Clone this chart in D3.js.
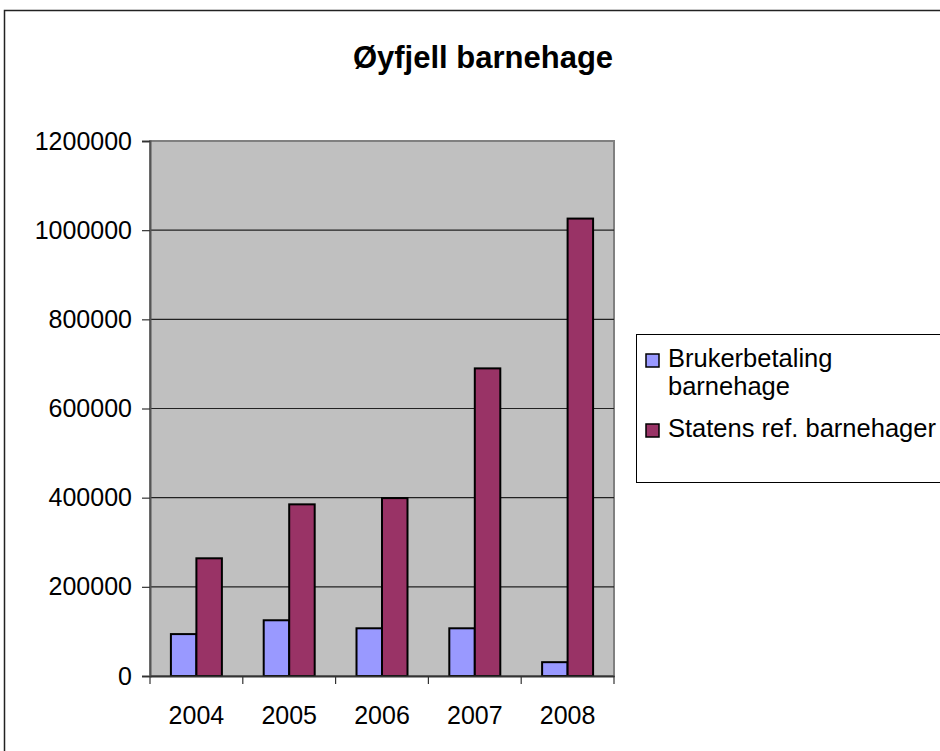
<!DOCTYPE html>
<html>
<head>
<meta charset="utf-8">
<script src="https://cdnjs.cloudflare.com/ajax/libs/d3/7.8.5/d3.min.js"></script>
<style>
  body { margin: 0; background: #fff; }
  svg { display: block; font-family: "Liberation Sans", Arial, sans-serif; }
</style>
</head>
<body>
<svg id="chart" width="940" height="751"></svg>
<script>
var years = ['2004', '2005', '2006', '2007', '2008'];
var seriesNames = ['Brukerbetaling barnehage', 'Statens ref. barnehager'];
var brukerbetaling = [94000, 125000, 107000, 107000, 31000];
var statensRef = [264000, 385000, 399000, 690000, 1026000];
var yTicks = [0, 200000, 400000, 600000, 800000, 1000000, 1200000];
var colors = ['#9999FF', '#993366'];

var svg = d3.select('#chart');

// outer chart border (runs off the right and bottom edge)
svg.append('rect')
    .attr('x', 4.5).attr('y', 10.5)
    .attr('width', 1000).attr('height', 800)
    .style('fill', 'none')
    .style('stroke', '#222')
    .style('stroke-width', 1.5);

svg.append('text')
    .attr('x', 483).attr('y', 68)
    .attr('text-anchor', 'middle')
    .style('font-weight', 'bold')
    .style('font-size', '31px')
    .text('Øyfjell barnehage');

var plot = {left: 150, right: 614, top: 141, bottom: 676};

var x0 = d3.scaleBand().domain(years).range([plot.left, plot.right]);
var x1 = d3.scaleBand().domain([0, 1]).range([0, x0.bandwidth()]).paddingOuter(0.82);
var y = d3.scaleLinear().domain([0, 1200000]).range([plot.bottom, plot.top]);

svg.append('rect')
    .attr('x', plot.left).attr('y', plot.top)
    .attr('width', plot.right - plot.left)
    .attr('height', plot.bottom - plot.top)
    .style('fill', '#C0C0C0')
    .style('stroke', '#808080')
    .style('stroke-width', 2);

svg.selectAll('.grid')
    .data(yTicks.slice(1, -1))
    .enter()
    .append('line')
    .attr('x1', plot.left).attr('x2', plot.right)
    .attr('y1', function(d) { return y(d); })
    .attr('y2', function(d) { return y(d); })
    .style('stroke', '#222')
    .style('stroke-width', 1.2);

var rows = years.map(function(yr, i) {
  return {year: yr, values: [brukerbetaling[i], statensRef[i]]};
});

var groups = svg.selectAll('.group')
    .data(rows)
    .enter()
    .append('g')
    .attr('transform', function(d) { return 'translate(' + x0(d.year) + ',0)'; });

groups.selectAll('rect')
    .data(function(d) { return d.values; })
    .enter()
    .append('rect')
    .attr('x', function(d, i) { return x1(i); })
    .attr('y', function(d) { return y(d); })
    .attr('width', x1.bandwidth())
    .attr('height', function(d) { return plot.bottom - y(d); })
    .style('fill', function(d, i) { return colors[i]; })
    .style('stroke', '#000')
    .style('stroke-width', 2);

// y axis
var yAxis = svg.append('g')
    .attr('transform', 'translate(' + plot.left + ',0)')
    .call(d3.axisLeft(y).tickValues(yTicks).tickSize(8).tickPadding(10).tickFormat(d3.format('d')));
yAxis.select('.domain').style('stroke', '#555').style('stroke-width', 2);
yAxis.selectAll('.tick line').style('stroke', '#333').style('stroke-width', 1.2);
yAxis.selectAll('text').style('font-size', '25px').style('fill', '#000')
    .attr('font-family', null);

// x axis
var xAxis = svg.append('g')
    .attr('transform', 'translate(0,' + plot.bottom + ')')
    .call(d3.axisBottom(x0).tickSize(0).tickPadding(0));
xAxis.select('.domain').style('stroke', '#333').style('stroke-width', 2);
xAxis.selectAll('text').attr('y', 48).attr('dy', null)
    .style('font-size', '25px').style('fill', '#000')
    .attr('font-family', null);

svg.selectAll('.xtick')
    .data(years.concat(['end']))
    .enter()
    .append('line')
    .attr('x1', function(d) { return d === 'end' ? plot.right : x0(d); })
    .attr('x2', function(d) { return d === 'end' ? plot.right : x0(d); })
    .attr('y1', plot.bottom).attr('y2', plot.bottom + 8)
    .style('stroke', '#333')
    .style('stroke-width', 1.2);

// legend
var legend = svg.append('g');
legend.append('rect')
    .attr('x', 636.5).attr('y', 334.5)
    .attr('width', 400).attr('height', 148)
    .style('fill', '#fff')
    .style('stroke', '#000')
    .style('stroke-width', 1);

var legendItems = [
  {lines: ['Brukerbetaling', 'barnehage'], top: 352},
  {lines: ['Statens ref. barnehager'], top: 422}
];

legend.selectAll('.sw')
    .data(legendItems)
    .enter()
    .append('rect')
    .attr('x', 646).attr('y', function(d) { return d.top + 2; })
    .attr('width', 13).attr('height', 13)
    .style('fill', function(d, i) { return colors[i]; })
    .style('stroke', '#000')
    .style('stroke-width', 1.5);

legend.selectAll('.lt')
    .data(legendItems)
    .enter()
    .append('text')
    .attr('x', 668)
    .attr('y', function(d) { return d.top + 15; })
    .style('font-size', '25.5px')
    .each(function(d) {
      var t = d3.select(this);
      d.lines.forEach(function(line, k) {
        t.append('tspan').attr('x', 668).attr('dy', k === 0 ? 0 : 28).text(line);
      });
    });
</script>
</body>
</html>
